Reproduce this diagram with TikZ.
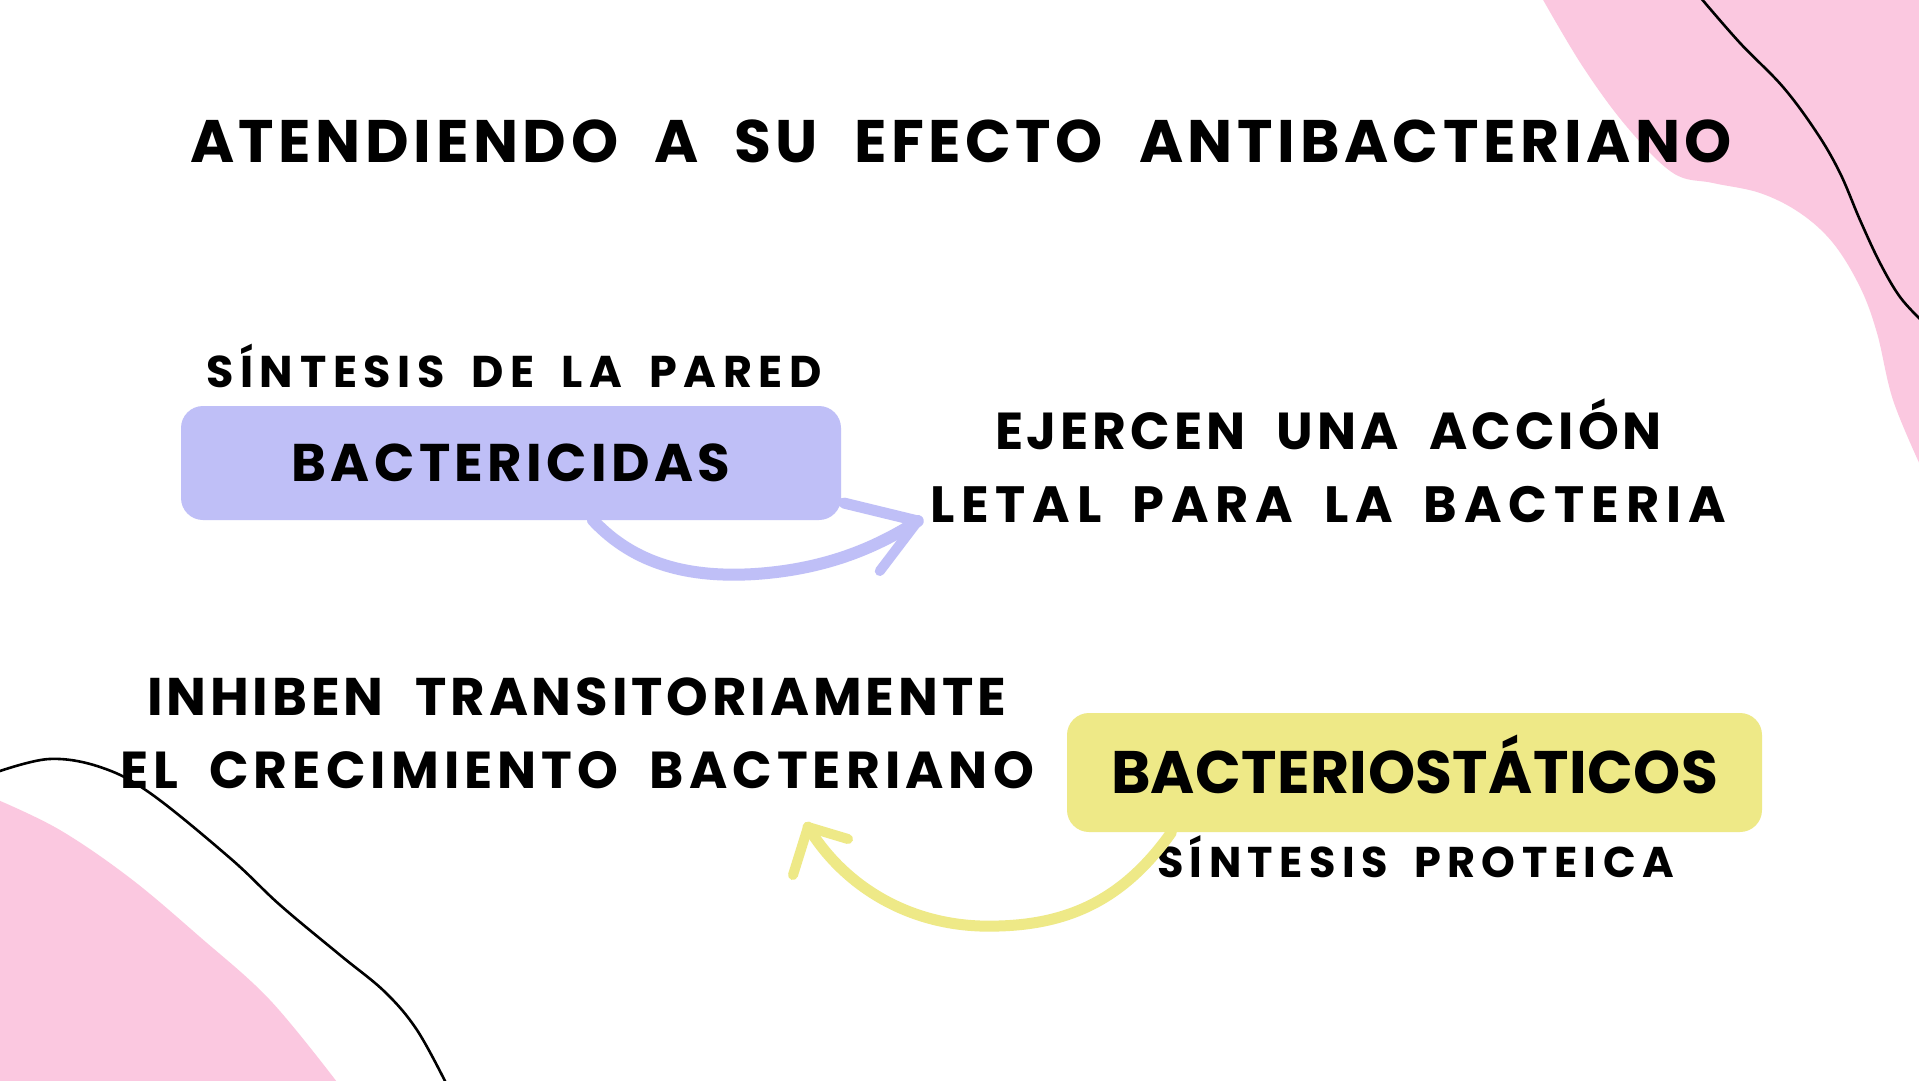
\documentclass[tikz,border=0pt]{standalone}
\usepackage{fontspec}
\setmainfont{Poppins}
\usetikzlibrary{calc}
\definecolor{pinkb}{RGB}{251,200,224}
\definecolor{lila}{RGB}{191,191,247}
\definecolor{amar}{RGB}{238,233,135}
\newlength\fitlen
\newlength\fitlenb
\newcommand\wsp{\spaceskip=0.6em\relax}
% #1 target width (px), #2 font size (px), #3 text
\newcommand\fittext[3]{%
  \fontsize{#2}{#2}\selectfont\wsp
  \settowidth\fitlen{#3}\edef\fitw{\the\fitlen}%
  \begingroup\addfontfeatures{LetterSpace=10}\wsp\settowidth\fitlenb{#3}\xdef\fitwb{\the\fitlenb}\endgroup
  \pgfmathsetmacro\fitls{10*(#1-\fitw)/(\fitwb-\fitw)}%
  \edef\fitdo{\noexpand\addfontfeatures{LetterSpace=\fitls}}\fitdo\wsp #3}
\begin{document}
\begin{tikzpicture}[x=1pt,y=-1pt,
  txt/.style={inner sep=0pt, anchor=base, font=\bfseries},
  boxlila/.style={fill=lila, rounded corners=22pt, inner sep=0pt, font=\bfseries},
  boxamar/.style={fill=amar, rounded corners=22pt, inner sep=0pt, font=\bfseries},
  arrlila/.style={draw=lila, line width=12pt, line cap=round},
  arramar/.style={draw=amar, line width=11pt, line cap=round},
  deco/.style={draw=black, line width=2.6pt}]
\useasboundingbox (0,0) rectangle (1919,1080);
\fill[white] (0,0) rectangle (1919,1080);
% pink blobs
\fill[pinkb] plot[smooth, tension=0.6] coordinates {(1542,-2) (1583,67) (1627,127) (1673,173) (1713,183) (1760,193) (1800,213) (1833,243) (1860,287) (1877,333) (1893,400) (1921,467)} -- (1921,-2) -- cycle;
\fill[pinkb] plot[smooth, tension=0.6] coordinates {(-2,800) (60,830) (130,878) (200,937) (270,1000) (337,1082)} -- (-2,1082) -- cycle;
% black lines
\draw[deco] plot[smooth, tension=0.6] coordinates {(1700,-3) (1740,43) (1783,87) (1817,133) (1840,173) (1860,220) (1880,263) (1900,297) (1922,321)};
\draw[deco] plot[smooth, tension=0.6] coordinates {(-3,772) (49,759) (100,767) (150,793) (230,858) (280,905) (340,955) (385,992) (417,1030) (446,1083)};
% title
\node[txt] (title) at (961,162) {\fittext{1542}{60}{ATENDIENDO A SU EFECTO ANTIBACTERIANO}};
% boxes
\node[boxlila, minimum width=660pt, minimum height=114pt, text height=37pt, text depth=0pt] (bact) at (511,463) {\fittext{439}{53}{BACTERICIDAS}};
\node[boxamar, minimum width=695pt, minimum height=119pt, text height=42pt, text depth=0pt] (bstat) at (1414.5,772.5) {\fittext{607}{60}{BACTERIOSTÁTICOS}};
% labels
\node[txt] (sinpared) at (514,387) {\fittext{616}{44.5}{SÍNTESIS DE LA PARED}};
\node[txt] (ejercen) at (1328.5,449) {\fittext{667}{52}{EJERCEN UNA ACCIÓN}};
\node[txt] (letal) at (1328,522) {\fittext{796}{51}{LETAL PARA LA BACTERIA}};
\node[txt] (inhib) at (576.5,715) {\fittext{859}{53}{INHIBEN TRANSITORIAMENTE}};
\node[txt] (el) at (577,788) {\fittext{914}{52}{EL CRECIMIENTO BACTERIANO}};
\node[txt] (sinprot) at (1415.5,877) {\fittext{517}{43}{SÍNTESIS PROTEICA}};
% purple arrow
\coordinate (p1s) at ($(bact.south)+(82,0)$);
\coordinate (p1e) at ($(letal.base west)+(-12,-1)$);
\draw[arrlila] (p1s) .. controls (635,565) and (690,578) .. (755,574) .. controls (830,569) and (880,545) .. (p1e);
\draw[arrlila, line width=11pt] (p1e) -- ($(p1e)+(-74,-18)$);
\draw[arrlila, line width=10pt] (p1e) -- ($(p1e)+(-38,50)$);
% yellow arrow
\coordinate (p2s) at ($(bstat.south)+(-243,0)$);
\coordinate (p2e) at ($(el.base)+(231,39)$);
\draw[arramar] (p2s) .. controls (1120,905) and (1060,928) .. (980,926) .. controls (900,923) and (840,880) .. (p2e);
\draw[arramar, line width=10pt] (p2e) -- ($(p2e)+(-15,48)$);
\draw[arramar, line width=10pt] (p2e) -- ($(p2e)+(40,12)$);
\end{tikzpicture}
\end{document}
